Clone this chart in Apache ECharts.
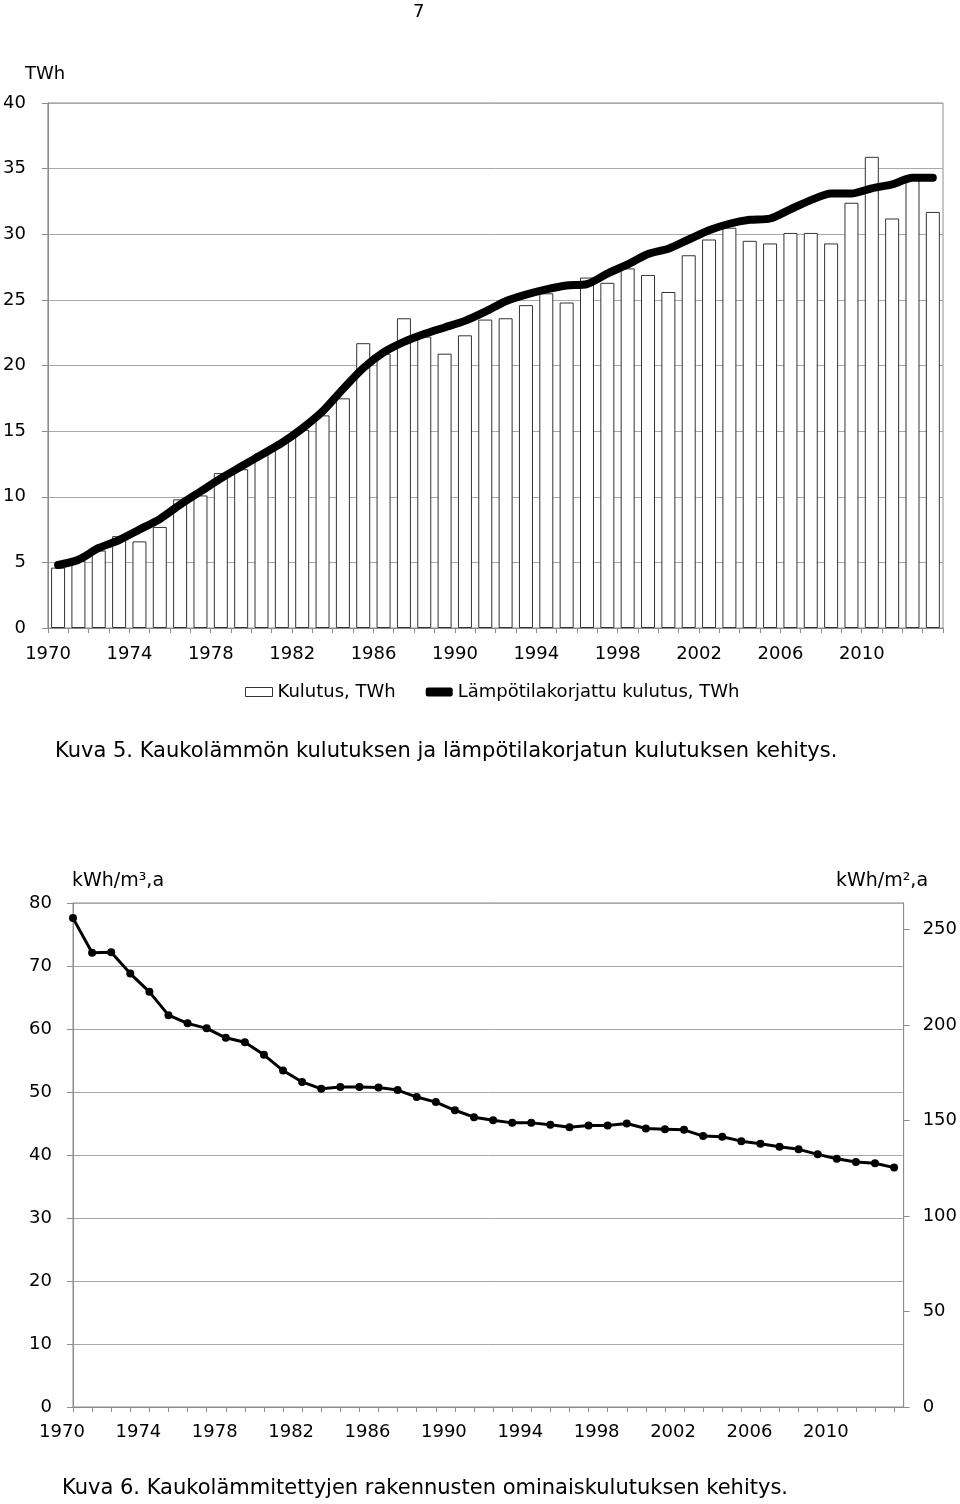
<!DOCTYPE html>
<html><head><meta charset="utf-8">
<script src="https://cdn.jsdelivr.net/npm/echarts@6/dist/echarts.min.js"></script>
<style>html,body{margin:0;padding:0;background:#fff}#c{width:960px;height:1504px}</style>
</head><body><div id="c"></div>
<script>
// ---- Data ----
const years = ['1970','1971','1972','1973','1974','1975','1976','1977','1978','1979',
  '1980','1981','1982','1983','1984','1985','1986','1987','1988','1989',
  '1990','1991','1992','1993','1994','1995','1996','1997','1998','1999',
  '2000','2001','2002','2003','2004','2005','2006','2007','2008','2009',
  '2010','2011','2012','2013'];
// Kuva 5: Kulutus, TWh (bars)
const kulutus = [4.6, 5.1, 5.9, 7.0, 6.6, 7.7, 9.8, 10.1, 11.8, 12.1,
  13.3, 14.2, 15.1, 16.2, 17.5, 21.7, 20.9, 23.6, 22.2, 20.9,
  22.3, 23.5, 23.6, 24.6, 25.5, 24.8, 26.7, 26.3, 27.4, 26.9,
  25.6, 28.4, 29.6, 30.5, 29.5, 29.3, 30.1, 30.1, 29.3, 32.4,
  35.9, 31.2, 34.2, 31.7];
// Kuva 5: Lämpötilakorjattu kulutus, TWh (thick line)
const korjattu = [4.8, 5.2, 6.1, 6.7, 7.5, 8.3, 9.4, 10.4, 11.4, 12.3,
  13.2, 14.1, 15.2, 16.5, 18.2, 19.8, 21.0, 21.8, 22.4, 22.9,
  23.4, 24.1, 24.9, 25.4, 25.8, 26.1, 26.2, 27.0, 27.7, 28.5,
  28.9, 29.6, 30.3, 30.8, 31.1, 31.2, 31.9, 32.6, 33.1, 33.1,
  33.5, 33.8, 34.3, 34.3];
// Kuva 6: ominaiskulutus, kWh/m3,a
const ominais = [77.6, 72.1, 72.2, 68.8, 65.9, 62.2, 60.9, 60.1, 58.6, 57.9,
  55.9, 53.4, 51.6, 50.5, 50.8, 50.8, 50.7, 50.3, 49.2, 48.4,
  47.1, 46.0, 45.5, 45.1, 45.1, 44.8, 44.4, 44.7, 44.7, 45.0,
  44.2, 44.1, 44.0, 43.0, 42.9, 42.2, 41.8, 41.3, 40.9, 40.1,
  39.4, 38.9, 38.7, 38.0];
const xTickLabels = ['1970','1974','1978','1982','1986','1990','1994','1998','2002','2006','2010'];
const seriesNames = ['Kulutus, TWh', 'Lämpötilakorjattu kulutus, TWh'];

const FONT = 'DejaVu Sans';
const GRID = '#a8a8a8';
const AX = '#8c8c8c';
const chart = echarts.init(document.getElementById('c'), null, {renderer: 'canvas'});
const ominaisPairs = years.map((y, i) => [Number(y), ominais[i]]);

chart.setOption({
  animation: false,
  backgroundColor: '#fff',
  textStyle: {fontFamily: FONT, color: '#000'},
  grid: [
    {left: 47, top: 103, width: 896, height: 525, show: true, borderColor: AX, borderWidth: 1, backgroundColor: 'transparent'},
    {left: 73, top: 903, width: 831, height: 504, show: true, borderColor: AX, borderWidth: 1, backgroundColor: 'transparent'}
  ],
  legend: {
    left: 245, top: 683, padding: 0, itemWidth: 27, itemHeight: 9, itemGap: 30,
    textStyle: {fontFamily: FONT, fontSize: 18, color: '#000'},
    data: [
      {name: seriesNames[0], icon: 'rect', itemStyle: {color: '#fff', borderColor: '#333', borderWidth: 1}},
      {name: seriesNames[1], icon: 'roundRect', itemStyle: {color: '#000'}}
    ]
  },
  xAxis: [
    {
      gridIndex: 0, type: 'category', data: years, boundaryGap: true,
      axisLine: {lineStyle: {color: AX}},
      axisTick: {show: true, interval: 0, length: 5, lineStyle: {color: AX}},
      axisLabel: {interval: 3, margin: 17, fontSize: 18, fontFamily: FONT, color: '#000', padding: [0, 20, 0, 0]},
      splitLine: {show: false}
    },
    {
      gridIndex: 1, type: 'value', min: 1970, max: 2013.5, interval: 1,
      axisLine: {lineStyle: {color: AX}},
      axisTick: {show: true, length: 5, lineStyle: {color: AX}},
      axisLabel: {margin: 16, fontSize: 18, fontFamily: FONT, color: '#000', padding: [0, 22, 0, 0],
        showMaxLabel: false,
        formatter: v => xTickLabels.indexOf(String(v)) >= 0 ? String(v) : ''},
      splitLine: {show: false}
    }
  ],
  yAxis: [
    {
      gridIndex: 0, type: 'value', min: 0, max: 40, interval: 5,
      axisLine: {show: true, lineStyle: {color: AX}},
      axisTick: {show: true, length: 6, lineStyle: {color: AX}},
      axisLabel: {margin: 22, fontSize: 18, fontFamily: FONT, color: '#000'},
      splitLine: {show: true, lineStyle: {color: GRID, width: 1}}
    },
    {
      gridIndex: 1, type: 'value', min: 0, max: 80, interval: 10,
      axisLine: {show: true, lineStyle: {color: AX}},
      axisTick: {show: true, length: 6, lineStyle: {color: AX}},
      axisLabel: {margin: 21, fontSize: 18, fontFamily: FONT, color: '#000'},
      splitLine: {show: true, lineStyle: {color: GRID, width: 1}}
    },
    {
      gridIndex: 1, type: 'value', position: 'right', min: 0, max: 264, interval: 50,
      axisLine: {show: true, lineStyle: {color: AX}},
      axisTick: {show: true, length: 6, lineStyle: {color: AX}},
      axisLabel: {margin: 19, fontSize: 18, fontFamily: FONT, color: '#000', showMaxLabel: false},
      splitLine: {show: false}
    }
  ],
  series: [
    {
      name: seriesNames[0], type: 'bar', xAxisIndex: 0, yAxisIndex: 0,
      data: kulutus, barWidth: 14,
      itemStyle: {color: '#fff', borderColor: '#333', borderWidth: 1}
    },
    {
      name: seriesNames[1], type: 'line', xAxisIndex: 0, yAxisIndex: 0,
      data: korjattu, smooth: 0.25, showSymbol: false, symbol: 'none',
      lineStyle: {color: '#000', width: 8, cap: 'round', join: 'round'},
      itemStyle: {color: '#000'}
    },
    {
      name: 'Ominaiskulutus', type: 'line', xAxisIndex: 1, yAxisIndex: 1,
      data: ominaisPairs, symbol: 'circle', symbolSize: 8,
      lineStyle: {color: '#000', width: 3},
      itemStyle: {color: '#000'}
    }
  ],
  graphic: [
    {type: 'text', left: 413, top: 3, style: {text: '7', font: '18px "DejaVu Sans"', fill: '#000'}},
    {type: 'text', left: 25, top: 65, style: {text: 'TWh', font: '18px "DejaVu Sans"', fill: '#000'}},
    {type: 'text', left: 55, top: 741, style: {text: 'Kuva 5. Kaukolämmön kulutuksen ja lämpötilakorjatun kulutuksen kehitys.', font: '21px "DejaVu Sans"', fill: '#000'}},
    {type: 'text', left: 72, top: 872, style: {text: 'kWh/m³,a', font: '19px "DejaVu Sans"', fill: '#000'}},
    {type: 'text', left: 836, top: 872, style: {text: 'kWh/m²,a', font: '19px "DejaVu Sans"', fill: '#000'}},
    {type: 'text', left: 62, top: 1478, style: {text: 'Kuva 6. Kaukolämmitettyjen rakennusten ominaiskulutuksen kehitys.', font: '21px "DejaVu Sans"', fill: '#000'}}
  ]
});
</script>
</body></html>
